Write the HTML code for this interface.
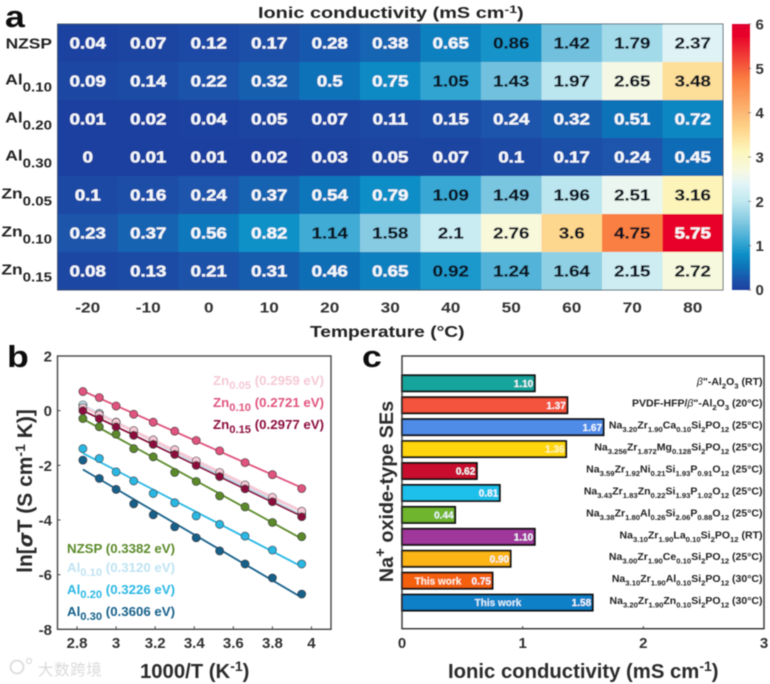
<!DOCTYPE html>
<html lang="en">
<head>
<meta charset="utf-8">
<title>Ionic conductivity figure</title>
<style>
html,body{margin:0;padding:0;background:#fff;}
#fig{display:block;width:770px;height:684px;}
text{font-family:"Liberation Sans","Noto Sans CJK SC",sans-serif;font-weight:bold;}
</style>
</head>
<body>
<svg id="fig" xmlns="http://www.w3.org/2000/svg" width="770" height="684" viewBox="0 0 770 684">
  <defs>
    <linearGradient id="cbar-grad" x1="0" y1="1" x2="0" y2="0"></linearGradient>
    <filter id="soft" x="-5%" y="-5%" width="110%" height="110%"><feGaussianBlur stdDeviation="0.4"/></filter>
  </defs>
  <g id="root" filter="url(#soft)">
    <text x="5" y="27" font-size="31" fill="#111" transform="translate(5 27) scale(1.15 1) translate(-5 -27)">a</text>
    <text x="7" y="367" font-size="31" fill="#111" transform="translate(7 367) scale(1.15 1) translate(-7 -367)">b</text>
    <text x="362" y="367" font-size="31" fill="#111" transform="translate(362 367) scale(1.15 1) translate(-362 -367)">c</text>

    <text font-size="15.5" fill="#222" transform="translate(258 18) scale(1.284 1)">Ionic conductivity (mS cm<tspan font-size="11" dy="-5">-1</tspan><tspan dy="5">)</tspan></text>
    <text font-size="15.5" fill="#222" transform="translate(310 337) scale(1.24 1)">Temperature (°C)</text>

    <g id="heatmap"></g>
    <rect x="57.5" y="24" width="665.5" height="266" fill="none" stroke="#3a4a5a" stroke-width="0.8"/>
    <g id="colorbar"></g>

    <g id="panelB"></g>
    <text font-size="21" fill="#2b2b2b" text-anchor="middle" transform="translate(32 491) rotate(-90)">ln[<tspan font-style="italic" font-family="'DejaVu Sans',sans-serif" font-size="19">σ</tspan>T (S cm<tspan font-size="14" dy="-7">-1</tspan><tspan dy="7"> K)]</tspan></text>
    <text font-size="20.3" fill="#2b2b2b" x="140" y="678">1000/T (K<tspan font-size="14" dy="-7">-1</tspan><tspan dy="7">)</tspan></text>

    <g id="panelC"></g>
    <text font-size="20.3" fill="#2b2b2b" x="448" y="678">Ionic conductivity (mS cm<tspan font-size="14" dy="-7">-1</tspan><tspan dy="7">)</tspan></text>
    <text font-size="19.8" fill="#2b2b2b" text-anchor="middle" transform="translate(393 491.5) rotate(-90)">Na<tspan font-size="15" dy="-8">+</tspan><tspan dy="8"> oxide-type SEs</tspan></text>

    <g opacity="0.9">
      <circle cx="17" cy="667" r="6.5" fill="none" stroke="#dcdcdc" stroke-width="2"/>
      <circle cx="29" cy="661" r="2.5" fill="none" stroke="#dcdcdc" stroke-width="1.4"/>
      <text x="38" y="675" font-size="15.5" fill="#d6d6d6" style="font-weight:normal" letter-spacing="0.6">大数跨境</text>
    </g>
  </g>
</svg>
<script>
/* ---------- panel a data ---------- */
var temperatures = ['-20','-10','0','10','20','30','40','50','60','70','80'];
var rowLabels = ['NZSP','Al_0.10','Al_0.20','Al_0.30','Zn_0.05','Zn_0.10','Zn_0.15'];
var rowNZSP = [0.04,0.07,0.12,0.17,0.28,0.38,0.65,0.86,1.42,1.79,2.37];
var rowAl10 = [0.09,0.14,0.22,0.32,0.5,0.75,1.05,1.43,1.97,2.65,3.48];
var rowAl20 = [0.01,0.02,0.04,0.05,0.07,0.11,0.15,0.24,0.32,0.51,0.72];
var rowAl30 = [0,0.01,0.01,0.02,0.03,0.05,0.07,0.1,0.17,0.24,0.45];
var rowZn05 = [0.1,0.16,0.24,0.37,0.54,0.79,1.09,1.49,1.96,2.51,3.16];
var rowZn10 = [0.23,0.37,0.56,0.82,1.14,1.58,2.1,2.76,3.6,4.75,5.75];
var rowZn15 = [0.08,0.13,0.21,0.31,0.46,0.65,0.92,1.24,1.64,2.15,2.72];
var colorbarTicks = [0,1,2,3,4,5,6];

/* ---------- panel b data ---------- */
var inverseT = [3.95,3.80,3.66,3.53,3.41,3.30,3.19,3.09,3.00,2.914,2.83];
var lnNZSP = [-4.61,-4.09,-3.52,-3.12,-2.59,-2.26,-1.69,-1.39,-0.86,-0.59,-0.29];
var lnAl10 = [-3.78,-3.30,-2.81,-2.40,-1.92,-1.48,-1.11,-0.77,-0.42,-0.10,0.21];
var lnAl20 = [-5.61,-5.10,-4.59,-4.16,-3.85,-3.37,-3.03,-2.57,-2.24,-1.75,-1.39];
var lnAl30 = [-6.71,-6.12,-5.61,-5.13,-4.65,-4.25,-3.81,-3.41,-2.88,-2.48,-1.81];
var lnZn05 = [-3.68,-3.17,-2.72,-2.26,-1.84,-1.43,-1.07,-0.73,-0.43,-0.15,0.11];
var lnZn10 = [-2.85,-2.34,-1.90,-1.47,-1.09,-0.75,-0.42,-0.13,0.17,0.48,0.70];
var lnZn15 = [-3.88,-3.33,-2.86,-2.41,-2.00,-1.60,-1.23,-0.90,-0.59,-0.29,0.00];
var arrheniusXTicks = [2.8,3,3.2,3.4,3.6,3.8,4];
var arrheniusYTicks = [2,0,-2,-4,-6,-8];

/* ---------- panel c data ---------- */
var barLabels = ['β"-Al_2_O_3_ (RT)','PVDF-HFP/β"-Al_2_O_3_ (20°C)','Na_3.20_Zr_1.90_Ca_0.10_Si_2_PO_12_ (25°C)','Na_3.256_Zr_1.872_Mg_0.128_Si_2_PO_12_ (25°C)','Na_3.59_Zr_1.92_Ni_0.21_Si_1.93_P_0.91_O_12_ (25°C)','Na_3.43_Zr_1.83_Zn_0.22_Si_1.93_P_1.02_O_12_ (25°C)','Na_3.38_Zr_1.80_Al_0.26_Si_2.06_P_0.88_O_12_ (25°C)','Na_3.10_Zr_1.90_La_0.10_Si_2_PO_12_ (RT)','Na_3.00_Zr_1.90_Ce_0.10_Si_2_PO_12_ (25°C)','Na_3.10_Zr_1.90_Al_0.10_Si_2_PO_12_ (30°C)','Na_3.20_Zr_1.90_Zn_0.10_Si_2_PO_12_ (30°C)'];
var barValues = [1.10,1.37,1.67,1.36,0.62,0.81,0.44,1.10,0.90,0.75,1.58];
var barXTicks = [0,1,2,3];

/* ---------- presentation ---------- */
var SVGNS = 'http://www.w3.org/2000/svg';
var colorStops = [[0,'#1f3f9f'],[0.25,'#1a56ab'],[0.5,'#0f72b8'],[0.8,'#0d8fc6'],[1.1,'#3ba8d4'],[1.5,'#7cc6e0'],[2,'#c0e8f0'],[2.4,'#e2f4f7'],[2.7,'#f7f9e0'],[3.15,'#fdf5ba'],[3.6,'#fed78e'],[4.75,'#fa7f42'],[5.75,'#e8002a'],[6,'#e00030']];
var barColors = ['#14a59c','#f4533c','#4f8ce8','#ffd60a','#c8102e','#1cc0ea','#6fb52f','#a0399b','#fdb515','#f4600f','#0a80c8'];
var seriesColors = {NZSP:'#5b8a2b',Al10:'#bfe3f2',Al20:'#2bb8e3',Al30:'#15608a',Zn05:'#f5c9d6',Zn10:'#e0557f',Zn15:'#8b0f3c'};

function el(tag, parent){
  var e = document.createElementNS(SVGNS, tag);
  parent.appendChild(e);
  return e;
}
function hexToRgb(h){return [parseInt(h.substr(1,2),16),parseInt(h.substr(3,2),16),parseInt(h.substr(5,2),16)];}
function colorFor(v){
  for(var i=1;i<colorStops.length;i++){
    if(v<=colorStops[i][0]){
      var a=colorStops[i-1],b=colorStops[i],t=(v-a[0])/(b[0]-a[0]);
      var ca=hexToRgb(a[1]),cb=hexToRgb(b[1]);
      return 'rgb('+Math.round(ca[0]+(cb[0]-ca[0])*t)+','+Math.round(ca[1]+(cb[1]-ca[1])*t)+','+Math.round(ca[2]+(cb[2]-ca[2])*t)+')';
    }
  }
  return colorStops[colorStops.length-1][1];
}
/* text with "_" delimited subscripts: odd tokens are subscripts */
function label(parent,x,y,str,size,subSize,subDy,anchor,fill,sx){
  var t = el('text',parent);
  t.setAttribute('font-size',size);
  t.setAttribute('fill',fill);
  t.setAttribute('text-anchor',anchor);
  t.setAttribute('transform','translate('+x+' '+y+') scale('+sx+' 1)');
  var parts = str.split('_'), pending = 0;
  parts.forEach(function(p,i){
    if(i%2===1){
      var s = el('tspan',t);
      s.setAttribute('font-size',subSize);
      s.setAttribute('dy',subDy);
      s.textContent = p;
      pending = -subDy;
    } else if(p.length){
      var pieces = p.split('β');
      pieces.forEach(function(q,j){
        if(j>0){
          var b = el('tspan',t);
          b.setAttribute('font-style','italic');
          b.setAttribute('style','font-weight:normal');
          if(pending){b.setAttribute('dy',pending);pending=0;}
          b.textContent='β';
        }
        if(q.length){
          var m = el('tspan',t);
          if(pending){m.setAttribute('dy',pending);pending=0;}
          m.textContent=q;
        }
      });
    }
  });
  return t;
}

/* ---------- panel a ---------- */
(function(){
  var g = document.getElementById('heatmap');
  var rows = [rowNZSP,rowAl10,rowAl20,rowAl30,rowZn05,rowZn10,rowZn15];
  var x0=57.5, y0=24, cw=665.5/temperatures.length, ch=266/rowLabels.length;
  rows.forEach(function(row,r){
    row.forEach(function(v,c){
      var rect = el('rect',g);
      
      
      rect.setAttribute('x',x0+c*cw);
      rect.setAttribute('y',y0+r*ch);
      rect.setAttribute('width',cw+0.4);
      rect.setAttribute('height',ch+0.4);
      rect.setAttribute('fill',colorFor(v));
    });
  });
  rows.forEach(function(row,r){
    row.forEach(function(v,c){
      var dark = v>=0.85 && v<5;
      var color = dark?'#0c1420':'#f4f8fb';
      var t = label(g,x0+(c+0.5)*cw,y0+(r+0.5)*ch+5.5,String(v),15.5,11,3,'middle',color,1.2);
      t.setAttribute('stroke',color);
      t.setAttribute('stroke-width',0.3);
      
      
    });
    var name = rowLabels[r];
    var isPlain = name.indexOf('_')<0;
    var rl = label(g,52,y0+(r+0.5)*ch+(isPlain?5.5:3.5),name,15,13,7,'end','#222',1.16);
    
    
  });
  temperatures.forEach(function(tk,c){
    var t = label(g,x0+(c+0.5)*cw,312.7,tk,15,11,3,'middle','#333',1.15);
    
    
  });

  var grad = document.getElementById('cbar-grad');
  colorStops.forEach(function(s){
    var st = el('stop',grad);
    st.setAttribute('offset',s[0]/6);
    st.setAttribute('stop-color',s[1]);
  });
  var cb = document.getElementById('colorbar');
  var bar = el('rect',cb);
  
  
  bar.setAttribute('x',732);
  bar.setAttribute('y',24);
  bar.setAttribute('width',18);
  bar.setAttribute('height',266);
  bar.setAttribute('fill','url(#cbar-grad)');
  function cy(v){return 290-v/6*266;}
  colorbarTicks.forEach(function(v){
    var t = label(cb,755.5,Math.min(cy(v)+5.5,295),String(v),15,11,3,'start','#333',1);
    
    
    var tk = el('line',cb);
    
    
    tk.setAttribute('x1',748);
    tk.setAttribute('x2',751);
    tk.setAttribute('y1',cy(v));
    tk.setAttribute('y2',cy(v));
    tk.setAttribute('stroke','#555');
    tk.setAttribute('stroke-width',0.7);
  });
})();

/* ---------- panel b ---------- */
(function(){
  var g = document.getElementById('panelB');
  var L=57.5,R=331,T=356,B=629.3;
  function xB(v){return L+(v-2.7)/1.4*(R-L);}
  function yB(v){return T+(2-v)/10*(B-T);}
  var series = [
    ['NZSP',lnNZSP],['Al10',lnAl10],['Al20',lnAl20],['Al30',lnAl30],
    ['Zn05',lnZn05],['Zn10',lnZn10],['Zn15',lnZn15]
  ];
  function fit(ys){
    var n=ys.length,sx=0,sy=0,sxx=0,sxy=0;
    for(var i=0;i<n;i++){sx+=inverseT[i];sy+=ys[i];sxx+=inverseT[i]*inverseT[i];sxy+=inverseT[i]*ys[i];}
    var m=(n*sxy-sx*sy)/(n*sxx-sx*sx);
    return {m:m,b:(sy-m*sx)/n};
  }
  series.forEach(function(s){
    var f = fit(s[1]);
    var xa=inverseT[0], xb=inverseT[inverseT.length-1];
    var ln = el('line',g);
    
    
    ln.setAttribute('x1',xB(xa));
    ln.setAttribute('y1',yB(f.m*xa+f.b));
    ln.setAttribute('x2',xB(xb));
    ln.setAttribute('y2',yB(f.m*xb+f.b));
    ln.setAttribute('stroke',seriesColors[s[0]]);
    ln.setAttribute('stroke-width',s[0]==='Zn05'||s[0]==='Al10'?3:1.8);
  });
  series.forEach(function(s){
    s[1].forEach(function(v,i){
      var c = el('circle',g);
      
      
      c.setAttribute('cx',xB(inverseT[i]));
      c.setAttribute('cy',yB(v));
      c.setAttribute('r',4);
      c.setAttribute('fill',seriesColors[s[0]]);
      c.setAttribute('stroke','#333');
      c.setAttribute('stroke-width',0.7);
    });
  });
  var frame = el('rect',g);
  
  
  frame.setAttribute('x',L);
  frame.setAttribute('y',T);
  frame.setAttribute('width',R-L);
  frame.setAttribute('height',B-T);
  frame.setAttribute('fill','none');
  frame.setAttribute('stroke','#444');
  frame.setAttribute('stroke-width',1.4);
  arrheniusXTicks.forEach(function(v){
    var tk = el('line',g);
    
    
    tk.setAttribute('x1',xB(v));
    tk.setAttribute('x2',xB(v));
    tk.setAttribute('y1',B);
    tk.setAttribute('y2',B-3);
    tk.setAttribute('stroke','#444');
    var t = label(g,xB(v),648,String(v),15,11,3,'middle','#333',1);
    
    
  });
  arrheniusYTicks.forEach(function(v){
    var tk = el('line',g);
    
    
    tk.setAttribute('x1',L);
    tk.setAttribute('x2',L+3);
    tk.setAttribute('y1',yB(v));
    tk.setAttribute('y2',yB(v));
    tk.setAttribute('stroke','#444');
    var t = label(g,52,yB(v)+5.5,String(v),15,11,3,'end','#333',1);
    
    
  });
  var legendEntries = [
    [324,385,'Zn_0.05_ (0.2959 eV)','end','Zn05'],
    [324,407,'Zn_0.10_ (0.2721 eV)','end','Zn10'],
    [324,429,'Zn_0.15_ (0.2977 eV)','end','Zn15'],
    [67,553,'NZSP (0.3382 eV)','start','NZSP'],
    [67,572,'Al_0.10_ (0.3120 eV)','start','Al10'],
    [67,594,'Al_0.20_ (0.3226 eV)','start','Al20'],
    [67,616,'Al_0.30_ (0.3606 eV)','start','Al30']
  ];
  legendEntries.forEach(function(e){
    var t = label(g,e[0],e[1],e[2],13,11,4,e[3],seriesColors[e[4]],1.02);
    
    
  });
})();

/* ---------- panel c ---------- */
(function(){
  var g = document.getElementById('panelC');
  var L=402,R=764,T=356,B=628.7;
  function xC(v){return L+v/3*(R-L);}
  function yC(i){return 383.3+i*21.93;}
  barValues.forEach(function(v,i){
    var r = el('rect',g);
    
    
    r.setAttribute('x',L);
    r.setAttribute('y',yC(i)-8);
    r.setAttribute('width',xC(v)-L);
    r.setAttribute('height',16);
    r.setAttribute('fill',barColors[i]);
    r.setAttribute('stroke','#0a0a0a');
    r.setAttribute('stroke-width',1.9);
    var vt = label(g,xC(v)-1.5,yC(i)+3.6,v.toFixed(2),10,8,2,'end',i===3?'#fff7c0':'#f4fbff',1);
    
    
    var nm = label(g,762.5,yC(i)+1.5,barLabels[i],10.5,7.7,3.5,'end','#222',1);
    
    
  });
  var w1 = el('text',g);
  
  
  w1.setAttribute('x',438);
  w1.setAttribute('y',yC(9)+3.6);
  w1.setAttribute('font-size',10);
  w1.setAttribute('fill','#fff2dc');
  w1.setAttribute('text-anchor','middle');
  w1.textContent = 'This work';
  var w2 = el('text',g);
  
  
  w2.setAttribute('x',498);
  w2.setAttribute('y',yC(10)+3.6);
  w2.setAttribute('font-size',10);
  w2.setAttribute('fill','#d9f3ff');
  w2.setAttribute('text-anchor','middle');
  w2.textContent = 'This work';
  var frame = el('rect',g);
  
  
  frame.setAttribute('x',L);
  frame.setAttribute('y',T);
  frame.setAttribute('width',R-L);
  frame.setAttribute('height',B-T);
  frame.setAttribute('fill','none');
  frame.setAttribute('stroke','#333');
  frame.setAttribute('stroke-width',1.4);
  barXTicks.forEach(function(v){
    var tk = el('line',g);
    
    
    tk.setAttribute('x1',xC(v));
    tk.setAttribute('x2',xC(v));
    tk.setAttribute('y1',B);
    tk.setAttribute('y2',B-2.5);
    tk.setAttribute('stroke','#333');
    var t = label(g,xC(v),648,String(v),15,11,3,'middle','#333',1);
    
    
  });
})();
</script>
</body>
</html>
